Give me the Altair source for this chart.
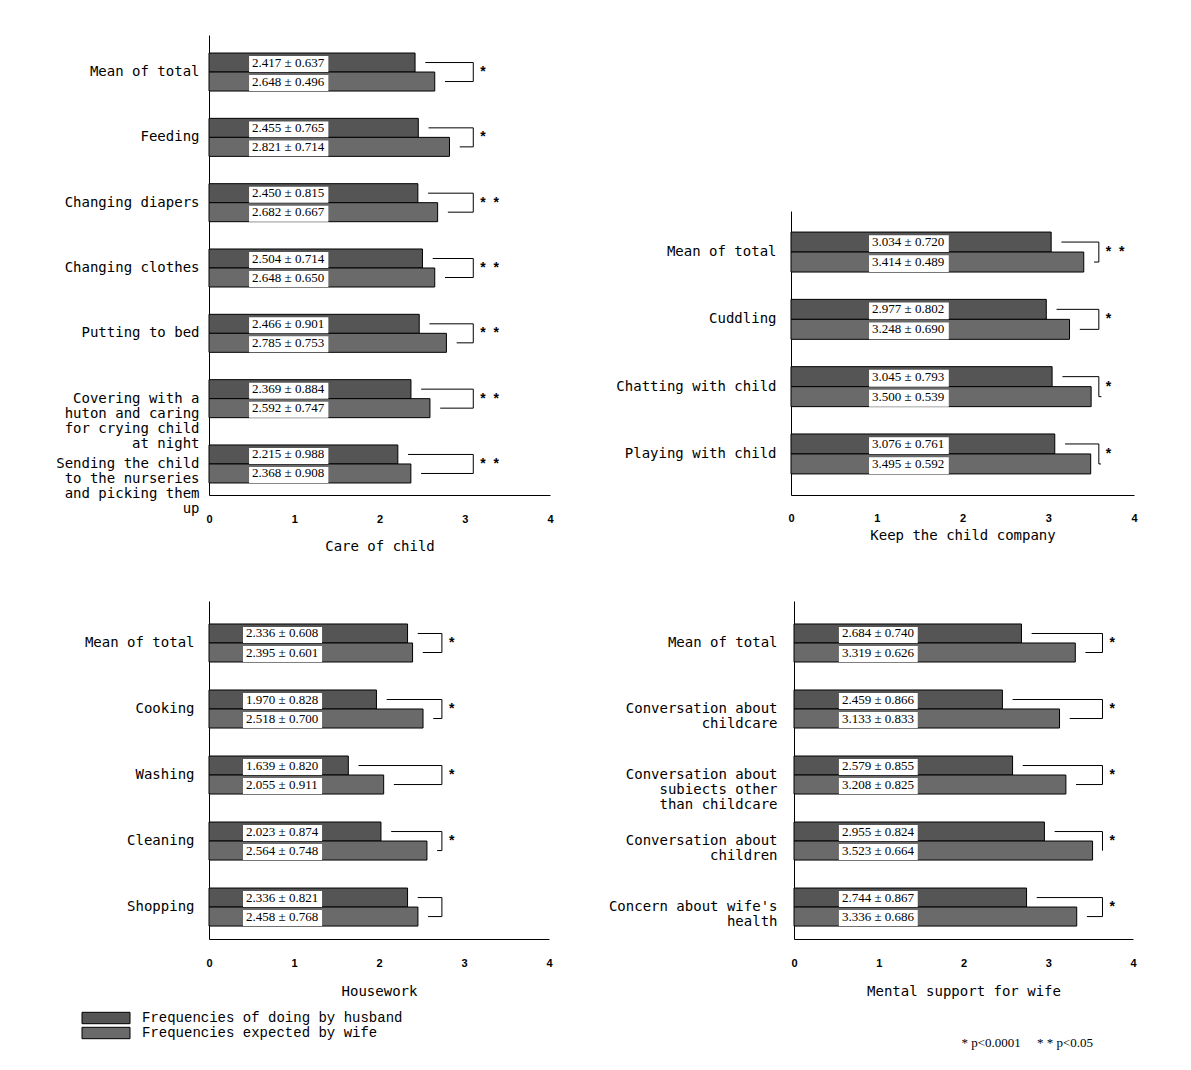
import altair as alt
import pandas as pd

HUS = "Frequencies of doing by husband"
WIFE = "Frequencies expected by wife"
SERIES = [HUS, WIFE]
FILL = ["#555555", "#6a6a6a"]

# ---- Care of child
care_items = ["Mean of total", "Feeding", "Changing diapers", "Changing clothes",
              "Putting to bed",
              "Covering with a\nhuton and caring\nfor crying child\nat night",
              "Sending the child\nto the nurseries\nand picking them\nup"]
care_hus = [2.417, 2.455, 2.450, 2.504, 2.466, 2.369, 2.215]
care_hus_sd = [0.637, 0.765, 0.815, 0.714, 0.901, 0.884, 0.988]
care_wife = [2.648, 2.821, 2.682, 2.648, 2.785, 2.592, 2.368]
care_wife_sd = [0.496, 0.714, 0.667, 0.650, 0.753, 0.747, 0.908]
care_sig = ["*", "*", "*\u00a0\u00a0*", "*\u00a0\u00a0*", "*\u00a0\u00a0*", "*\u00a0\u00a0*", "*\u00a0\u00a0*"]

# ---- Keep the child company
comp_items = ["Mean of total", "Cuddling", "Chatting with child", "Playing with child"]
comp_hus = [3.034, 2.977, 3.045, 3.076]
comp_hus_sd = [0.720, 0.802, 0.793, 0.761]
comp_wife = [3.414, 3.248, 3.500, 3.495]
comp_wife_sd = [0.489, 0.690, 0.539, 0.592]
comp_sig = ["*\u00a0\u00a0*", "*", "*", "*"]

# ---- Housework
house_items = ["Mean of total", "Cooking", "Washing", "Cleaning", "Shopping"]
house_hus = [2.336, 1.970, 1.639, 2.023, 2.336]
house_hus_sd = [0.608, 0.828, 0.820, 0.874, 0.821]
house_wife = [2.395, 2.518, 2.055, 2.564, 2.458]
house_wife_sd = [0.601, 0.700, 0.911, 0.748, 0.768]
house_sig = ["*", "*", "*", "*", ""]

# ---- Mental support for wife
ment_items = ["Mean of total", "Conversation about\nchildcare",
              "Conversation about\nsubiects other\nthan childcare",
              "Conversation about\nchildren", "Concern about wife's\nhealth"]
ment_hus = [2.684, 2.459, 2.579, 2.955, 2.744]
ment_hus_sd = [0.740, 0.866, 0.855, 0.824, 0.867]
ment_wife = [3.319, 3.133, 3.208, 3.523, 3.336]
ment_wife_sd = [0.626, 0.833, 0.825, 0.664, 0.686]
ment_sig = ["*", "*", "*", "*", "*"]

NOTE = "*\u00a0p<0.0001\u00a0\u00a0\u00a0\u00a0\u00a0*\u00a0*\u00a0p<0.05"

MONO = "DejaVu Sans Mono"


def panel(items, hv, hsd, wv, wsd, sig, title, width, height, ypad, box0, bx,
          ext, lab_pad, x_lab_pad, title_pad, legend=None):
    rows = []
    for i, it in enumerate(items):
        rows.append(dict(item=it, series=HUS, value=hv[i], sd=hsd[i]))
        rows.append(dict(item=it, series=WIFE, value=wv[i], sd=wsd[i]))
    df = pd.DataFrame(rows)
    df["label"] = [f"{v:.3f} ± {s:.3f}" for v, s in zip(df["value"], df["sd"])]
    df["box0"] = box0
    df["box1"] = box0 + 0.93

    br = []
    for i, it in enumerate(items):
        br += [dict(item=it, series=HUS, x=hv[i] + 0.12, o=0),
               dict(item=it, series=HUS, x=bx, o=1),
               dict(item=it, series=WIFE, x=bx, o=2),
               dict(item=it, series=WIFE, x=wv[i] + 0.12, o=3)]
    brdf = pd.DataFrame(br)
    sigdf = pd.DataFrame({"item": items, "sig": sig, "x": [bx] * len(items)})

    pi, po, al = ypad
    xs = alt.Scale(domain=[0, 4], nice=False)
    ys = alt.Scale(domain=items, paddingInner=pi, paddingOuter=po, align=al)
    yo = alt.Scale(domain=SERIES, paddingInner=0, paddingOuter=0)
    x_axis = alt.Axis(values=[0, 1, 2, 3, 4], format="d", title=title, ticks=False,
                      grid=False, labelFlush=False, labelPadding=x_lab_pad,
                      titlePadding=title_pad, labelFont="Liberation Sans",
                      labelFontWeight="bold", labelFontSize=11, titleFont=MONO,
                      titleFontSize=14, titleFontWeight="normal")
    y_axis = alt.Axis(title=None, ticks=False, grid=False,
                      labelExpr="split(datum.label, '\\n')", labelPadding=lab_pad,
                      minExtent=ext, maxExtent=ext, labelLimit=400, labelLineHeight=15,
                      labelFont=MONO, labelFontSize=14, labelAlign="right",
                      labelBaseline="middle")

    Y = alt.Y("item:N", scale=ys, axis=y_axis)
    YO = alt.YOffset("series:N", scale=yo)

    base = alt.Chart(df)
    bars = base.mark_bar(stroke="black", strokeWidth=1).encode(
        x=alt.X("value:Q", scale=xs, axis=x_axis),
        y=Y, yOffset=YO,
        fill=alt.Fill("series:N", scale=alt.Scale(domain=SERIES, range=FILL),
                      legend=legend),
    )
    boxes = base.mark_bar(fill="white", height=alt.RelativeBandSize(0.84)).encode(
        x=alt.X("box0:Q", scale=xs, axis=x_axis), x2="box1:Q", y=Y, yOffset=YO)
    texts = base.mark_text(align="left", baseline="middle", dx=3,
                           font="Liberation Serif", fontSize=13, color="black").encode(
        x=alt.X("box0:Q", scale=xs, axis=x_axis), y=Y, yOffset=YO, text="label:N")
    lines = alt.Chart(brdf).mark_line(color="black", strokeWidth=1).encode(
        x=alt.X("x:Q", scale=xs, axis=x_axis), y=Y, yOffset=YO,
        order="o:Q", detail="item:N")
    sigs = alt.Chart(sigdf).mark_text(align="left", baseline="middle", dx=7,
                                      fontSize=14, fontWeight="bold",
                                      font="Liberation Sans", color="black").encode(
        x=alt.X("x:Q", scale=xs, axis=x_axis), y=Y, text="sig:N")
    return alt.layer(bars, boxes, texts, lines, sigs).properties(width=width, height=height)


legend = alt.Legend(title=None, orient="none", legendX=-110, legendY=410,
                    symbolType="M-4,-0.95H4V0.95H-4Z", symbolSize=144,
                    symbolStrokeColor="black", symbolStrokeWidth=1,
                    labelFont="Liberation Mono", labelFontSize=14, labelOffset=29,
                    rowPadding=-2, padding=0, labelLimit=400, labelColor="black")

tl = panel(care_items, care_hus, care_hus_sd, care_wife, care_wife_sd, care_sig,
           "Care of child", 341, 460, (0.418, 0.23, 0.6), 0.47, 3.10, 201, 10, 18, 15)
tr = panel(comp_items, comp_hus, comp_hus_sd, comp_wife, comp_wife_sd, comp_sig,
           "Keep the child company", 343, 284, (0.406, 0.313, 0.5), 0.91, 3.59, 200, 15, 17, 5)
bl = panel(house_items, house_hus, house_hus_sd, house_wife, house_wife_sd, house_sig,
           "Housework", 340, 338, (0.424, 0.272, 0.64), 0.40, 2.74, 197, 15, 18, 16,
           legend=legend)
br = panel(ment_items, ment_hus, ment_hus_sd, ment_wife, ment_wife_sd, ment_sig,
           "Mental support for wife", 339, 338, (0.424, 0.272, 0.64), 0.53, 3.64, 200, 17, 18, 16)

spacer = alt.Chart(pd.DataFrame({"v": [0]})).mark_point(opacity=0).encode(
    x=alt.X("v:Q", axis=None), y=alt.Y("v:Q", axis=None)).properties(width=20, height=176)

res = dict(yOffset="independent", fill="independent")

right_col = alt.vconcat(spacer, tr, spacing=0).resolve_scale(**res).resolve_legend(fill="independent")
row1 = alt.hconcat(tl, right_col, spacing=37).resolve_scale(**res).resolve_legend(fill="independent")
row2 = alt.hconcat(bl, br, spacing=41).resolve_scale(**res).resolve_legend(fill="independent")

chart = alt.vconcat(
    row1, row2, spacing=48,
    title=alt.TitleParams(text=NOTE, orient="bottom", anchor="end",
                          font="Liberation Serif", fontSize=13, fontWeight="normal",
                          color="black", dx=-44, dy=-8),
).resolve_scale(**res).resolve_legend(fill="independent").properties(
    padding={"top": 27, "left": 0, "right": 0, "bottom": 0}
).configure_view(stroke=None).configure_axis(
    domainColor="black", domainWidth=1, labelColor="black", titleColor="black"
)

chart.save("out.html", embed_options={"renderer": "svg", "actions": False})
